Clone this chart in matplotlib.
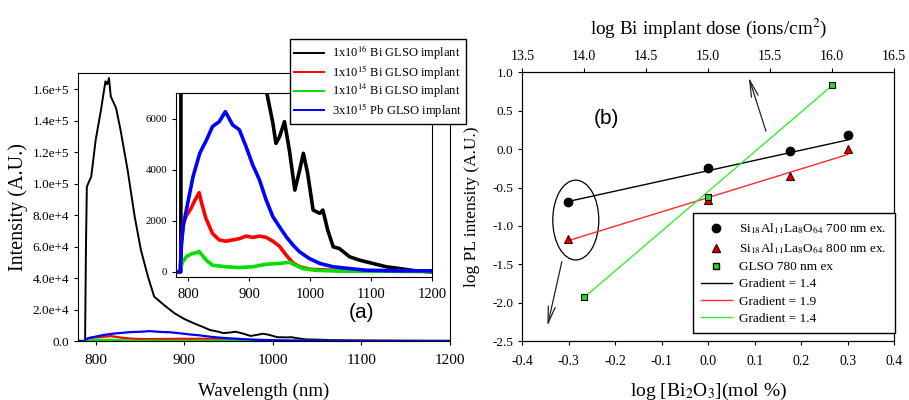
import matplotlib
matplotlib.use("Agg")
import matplotlib.pyplot as plt
from matplotlib.patches import Ellipse
from matplotlib.lines import Line2D

plt.rcParams['font.family'] = ['Liberation Serif', 'DejaVu Serif']
plt.rcParams['mathtext.fontset'] = 'stix'

# ---------------- Panel (a) data ----------------
wl_black = [780, 786, 788, 789, 790, 795, 800, 806, 811, 813, 815, 817, 823, 828, 836, 844, 851,
            859, 866, 877, 889, 900, 911, 922, 929, 939, 944, 950, 958, 966, 975, 983, 989, 996,
            1005, 1016, 1021, 1029, 1038, 1048, 1065, 1081, 1103, 1125, 1147, 1170, 1200]
int_black = [0, 0, 0, 60000, 98000, 104500, 127800, 146900, 164900, 163000, 167000, 155300, 147900,
             134100, 108700, 79000, 57900, 40900, 28200, 22900, 17600, 14000, 11200, 8700, 7000,
             5820, 5030, 5290, 5880, 4770, 3200, 3990, 4640, 3860, 2420, 2290, 2420, 1630, 980,
             915, 590, 460, 330, 200, 130, 50, 0]

wl_red = [780, 787, 789, 792, 797, 805, 811, 818, 822, 829, 840, 851, 862, 873, 884, 895, 906,
          917, 928, 939, 950, 961, 972, 983, 1000, 1050, 1100, 1200]
int_red = [0, 0, 1200, 1900, 2200, 2500, 2800, 3100, 2700, 2100, 1500, 1250, 1200, 1250, 1300,
           1400, 1350, 1400, 1350, 1200, 1000, 650, 350, 200, 100, 50, 30, 20]

wl_green = [780, 787, 790, 797, 805, 813, 818, 823, 830, 840, 862, 884, 906, 928, 950, 966, 977,
            988, 1010, 1050, 1200]
int_green = [0, 0, 350, 600, 700, 750, 800, 650, 450, 260, 200, 170, 200, 300, 330, 380, 250,
             130, 60, 30, 20]

wl_blue = [780, 787, 789, 792, 797, 808, 819, 830, 840, 851, 861, 873, 884, 895, 906, 917, 928,
           939, 950, 961, 972, 983, 999, 1016, 1038, 1065, 1092, 1147, 1200]
int_blue = [0, 0, 1100, 1800, 2420, 3730, 4640, 5160, 5690, 5880, 6270, 5750, 5560, 4900, 4180,
            3600, 2810, 2160, 1760, 1370, 1050, 780, 520, 330, 200, 130, 65, 40, 40]

legend_a = [r"1x10$^{16}$ Bi GLSO implant", r"1x10$^{15}$ Bi GLSO implant",
            r"1x10$^{14}$ Bi GLSO implant", r"3x10$^{15}$ Pb GLSO implant"]

main_yticks = [0, 20000, 40000, 60000, 80000, 100000, 120000, 140000, 160000]
main_yticklabels = ["0.0", "2.0e+4", "4.0e+4", "6.0e+4", "8.0e+4", "1.0e+5", "1.2e+5", "1.4e+5", "1.6e+5"]
wl_ticks = [800, 900, 1000, 1100, 1200]
inset_yticks = [0, 2000, 4000, 6000]

# ---------------- Panel (b) data ----------------
log_bi2o3 = [-0.301, 0.0, 0.176, 0.301]
pl_700 = [-0.69, -0.24, -0.03, 0.18]
pl_800 = [-1.17, -0.66, -0.35, 0.0]
log_dose = [14.0, 15.0, 16.0]
pl_glso = [-1.93, -0.63, 0.83]

fit_x = [-0.3, 0.3]
fit_700 = [-0.68, 0.12]
fit_800 = [-1.19, -0.07]
fit_dose = [14.0, 16.0]
fit_glso = [-1.93, 0.83]

legend_b = [r"Si$_{18}$Al$_{11}$La$_{8}$O$_{64}$ 700 nm ex.",
            r"Si$_{18}$Al$_{11}$La$_{8}$O$_{64}$ 800 nm ex.",
            "GLSO 780 nm ex", "Gradient = 1.4", "Gradient = 1.9", "Gradient = 1.4"]

bx_ticks = [-0.4, -0.3, -0.2, -0.1, 0.0, 0.1, 0.2, 0.3, 0.4]
by_ticks = [-2.5, -2.0, -1.5, -1.0, -0.5, 0.0, 0.5, 1.0]
top_ticks = [13.5, 14.0, 14.5, 15.0, 15.5, 16.0, 16.5]

arrow1 = [(0.124, 0.235), (0.087, 0.935)]   # (tail, head)
arrow2 = [(-0.315, -1.467), (-0.346, -2.305)]
ellipse_b = [(-0.285, -0.924), 0.099, 1.04]

# ---------------- Figure ----------------
fig = plt.figure(figsize=(9.09, 4.0), dpi=100)

C_BLACK = 'black'
C_RED = '#ff0000'
C_GREEN = '#00e000'
C_BLUE = '#0000ff'

ax = fig.add_axes([0.0858, 0.1475, 0.4092, 0.6693])
ax.plot(wl_black, int_black, color=C_BLACK, lw=1.4)
ax.plot(wl_red, int_red, color=C_RED, lw=1.6)
ax.plot(wl_green, int_green, color=C_GREEN, lw=1.6)
ax.plot(wl_blue, int_blue, color=C_BLUE, lw=1.6)
ax.set_xlim(780, 1200)
ax.set_ylim(0, 170000)
ax.set_xticks(wl_ticks)
ax.set_xticklabels([str(t) for t in wl_ticks], fontsize=11)
ax.set_yticks(main_yticks)
ax.set_yticklabels(main_yticklabels, fontsize=9.5)
ax.tick_params(direction='out', length=3, width=0.8)
ax.tick_params(axis='x', pad=6)
ax.set_xlabel("Wavelength (nm)", fontsize=13.6, labelpad=12)
ax.set_ylabel("Intensity (A.U.)", fontsize=14.5, labelpad=3)
ax.text(0.763, 0.105, "(a)", transform=ax.transAxes, fontsize=15,
        family=['Liberation Sans', 'DejaVu Sans'], ha='center', va='center')

axin = fig.add_axes([0.1936, 0.3075, 0.2816, 0.46])
axin.plot(wl_black, int_black, color=C_BLACK, lw=2.6)
axin.plot(wl_red, int_red, color=C_RED, lw=2.6)
axin.plot(wl_green, int_green, color=C_GREEN, lw=2.6)
axin.plot(wl_blue, int_blue, color=C_BLUE, lw=2.6)
axin.set_xlim(780, 1200)
axin.set_ylim(-200, 7000)
axin.set_xticks(wl_ticks)
axin.set_xticklabels([str(t) for t in wl_ticks], fontsize=10.5)
axin.set_yticks(inset_yticks)
axin.set_yticklabels([str(t) for t in inset_yticks], fontsize=7.8)
axin.tick_params(direction='out', length=3, width=0.8)
axin.tick_params(axis='x', pad=5)

handles_a = [Line2D([], [], color=c, lw=1.4) for c in (C_BLACK, C_RED, C_GREEN, C_BLUE)]
fig.legend(handles_a, legend_a, loc='upper left', bbox_to_anchor=(0.319, 0.9025),
           borderaxespad=0, fancybox=False, framealpha=1, edgecolor='black',
           fontsize=9, handlelength=2.4, handletextpad=0.6, labelspacing=0.05, borderpad=0.35)

# ---------------- Panel (b) ----------------
bx = fig.add_axes([0.5746, 0.1475, 0.4092, 0.6715])
bx.plot(fit_x, fit_700, color=C_BLACK, lw=1.0)
bx.plot(fit_x, fit_800, color='#ff2a2a', lw=1.0)
bx.plot(log_bi2o3, pl_700, 'o', color='black', ms=6, ls='none')
bx.plot(log_bi2o3, pl_800, '^', mfc='#dd0000', mec='#400000', ms=5.5, ls='none', mew=0.8)
bx.set_xlim(-0.4, 0.4)
bx.set_ylim(-2.5, 1.0)
bx.set_xticks(bx_ticks)
bx.set_xticklabels(["%.1f" % t for t in bx_ticks], fontsize=10)
bx.set_yticks(by_ticks)
bx.set_yticklabels(["%.1f" % t for t in by_ticks], fontsize=9.5)
bx.tick_params(direction='out', length=3, width=0.8)
bx.tick_params(axis='x', pad=7)
bx.set_xlabel(r"log [Bi$_2$O$_3$](mol %)", fontsize=14, labelpad=9)
bx.set_ylabel("log PL intensity (A.U.)", fontsize=12.5, labelpad=8.5)
bx.text(-0.22, 0.40, "(b)", fontsize=15, family=['Liberation Sans', 'DejaVu Sans'],
        ha='center', va='center')

ell = Ellipse(ellipse_b[0], ellipse_b[1], ellipse_b[2], fill=False, ec='black', lw=0.9)
bx.add_patch(ell)
for (tail, head) in (arrow1, arrow2):
    bx.annotate("", xy=head, xytext=tail,
                arrowprops=dict(arrowstyle='->,head_length=1.2,head_width=0.25', lw=0.9,
                                color='#222222', shrinkA=0, shrinkB=0))

tx = bx.twiny()
tx.plot(fit_dose, fit_glso, color='#33ee33', lw=1.0)
tx.plot(log_dose, pl_glso, 's', mfc='#22dd22', mec='black', ms=5, mew=0.8, ls='none')
tx.set_xlim(13.5, 16.5)
tx.set_xticks(top_ticks)
tx.set_xticklabels(["%.1f" % t for t in top_ticks], fontsize=10)
tx.tick_params(direction='out', length=3, width=0.8, pad=4)
tx.set_xlabel(r"log Bi implant dose (ions/cm$^2$)", fontsize=13.8, labelpad=11)

hb = [Line2D([], [], marker='o', color='black', ms=6, ls='none'),
      Line2D([], [], marker='^', mfc='#dd0000', mec='#400000', ms=5.5, ls='none'),
      Line2D([], [], marker='s', mfc='#22dd22', mec='black', ms=5, ls='none'),
      Line2D([], [], color='black', lw=1.0),
      Line2D([], [], color='#ff2a2a', lw=1.0),
      Line2D([], [], color='#33ee33', lw=1.0)]
tx.legend(hb, legend_b, loc='upper left', bbox_to_anchor=(0.4597, 0.475),
          borderaxespad=0, fancybox=False, framealpha=1, edgecolor='black',
          fontsize=9.5, handlelength=2.3, handletextpad=0.6, labelspacing=0.38, borderpad=0.6)

fig.savefig("out.png", dpi=100)
